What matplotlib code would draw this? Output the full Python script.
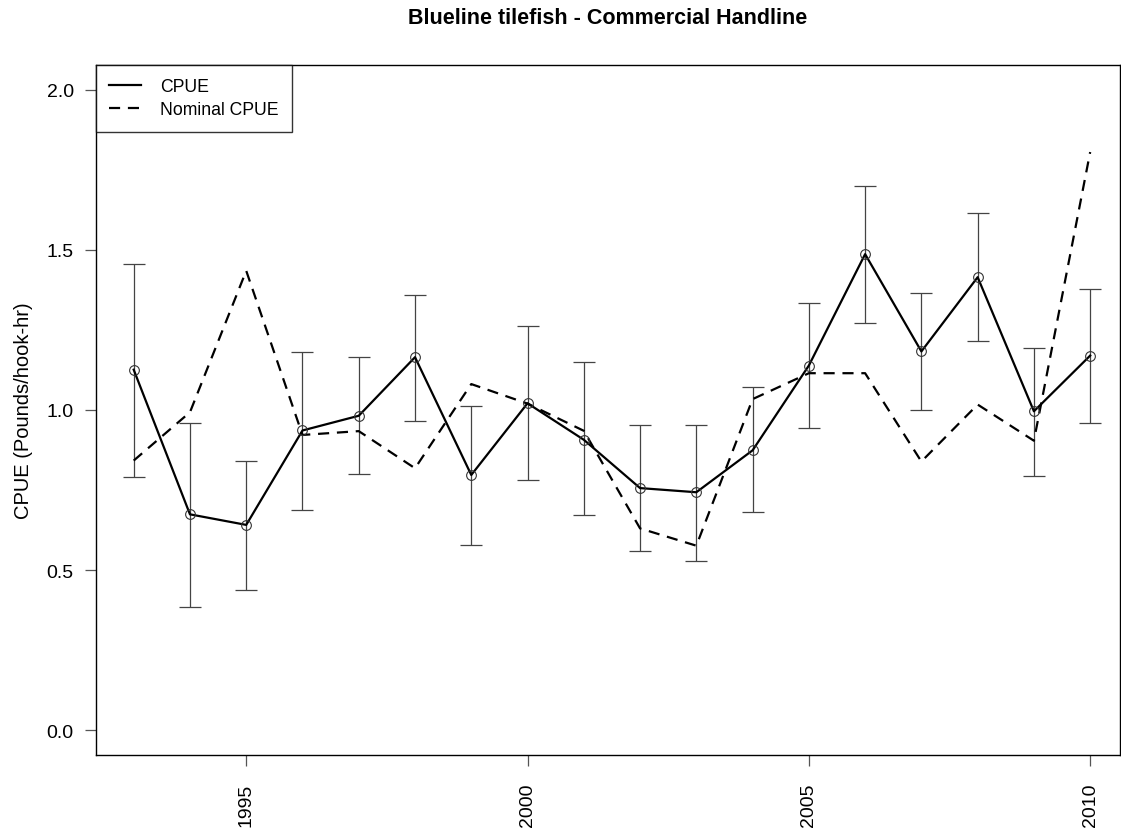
import matplotlib
matplotlib.use("Agg")
import matplotlib.pyplot as plt
import numpy as np

plt.rcParams['font.family'] = ['Liberation Sans', 'DejaVu Sans']

# ===== Daten =====
years = np.arange(1993, 2011)
cpue = [1.126, 0.674, 0.641, 0.936, 0.982, 1.165, 0.797, 1.021, 0.907,
        0.756, 0.743, 0.874, 1.139, 1.487, 1.183, 1.415, 0.996, 1.170]
cpue_upper = [1.457, 0.959, 0.842, 1.180, 1.166, 1.360, 1.013, 1.261, 1.151,
              0.953, 0.953, 1.073, 1.335, 1.701, 1.367, 1.615, 1.194, 1.378]
cpue_lower = [0.792, 0.385, 0.438, 0.689, 0.800, 0.965, 0.578, 0.782, 0.671,
              0.558, 0.528, 0.680, 0.943, 1.272, 0.999, 1.216, 0.794, 0.958]
nominal = [0.842, 0.993, 1.435, 0.922, 0.934, 0.818, 1.081, 1.020, 0.935,
           0.630, 0.576, 1.034, 1.115, 1.115, 0.839, 1.017, 0.904, 1.806]

x_ticks = [1995, 2000, 2005, 2010]
y_ticks = [0.0, 0.5, 1.0, 1.5, 2.0]

# ===== Plot =====
fig = plt.figure(figsize=(11.21, 8.29), dpi=100)
ax = fig.add_axes([96 / 1121, 73 / 829, 1024 / 1121, 690 / 829])

cpue = np.array(cpue)
yerr = [cpue - np.array(cpue_lower), np.array(cpue_upper) - cpue]
ax.errorbar(years, cpue, yerr=yerr, fmt='none', ecolor='#444444',
            elinewidth=0.9, capsize=8, capthick=0.9, zorder=2)
ax.plot(years, nominal, color='black', lw=1.6, ls=(0, (5, 3.5)),
        label='Nominal CPUE', zorder=3)
ax.plot(years, cpue, color='black', lw=1.6, label='CPUE', zorder=4)
ax.plot(years, cpue, ls='none', marker='o', ms=7, mfc='none',
        mec='#333333', mew=0.8, zorder=5)

# ===== Achsen =====
ax.set_xlim(1992.33, 2010.53)
ax.set_ylim(-0.078, 2.078)
ax.set_xticks(x_ticks)
ax.set_xticklabels([str(t) for t in x_ticks], rotation=90)
ax.set_yticks(y_ticks)
ax.set_yticklabels([f'{t:.1f}' for t in y_ticks])
ax.tick_params(axis='both', length=8, width=0.9, color='#555555',
               labelsize=14, pad=8)
ax.tick_params(axis='x', pad=12)
for s in ax.spines.values():
    s.set_linewidth(1.0)

ax.set_ylabel('CPUE (Pounds/hook-hr)', fontsize=14.5, labelpad=10)
fig.text(608 / 1121, 1 - 19 / 829, 'Blueline tilefish - Commercial Handline',
         fontsize=15.5, fontweight='bold', ha='center', va='center')

handles, labels = ax.get_legend_handles_labels()
leg = ax.legend(handles[::-1], labels[::-1], loc='upper left', fontsize=12.7,
                frameon=True, fancybox=False, borderaxespad=0,
                handlelength=1.82, handletextpad=1.08, borderpad=0.75,
                labelspacing=0.35)
leg.get_frame().set_edgecolor('black')
leg.get_frame().set_linewidth(1.0)

fig.savefig('out.png', dpi=100)
